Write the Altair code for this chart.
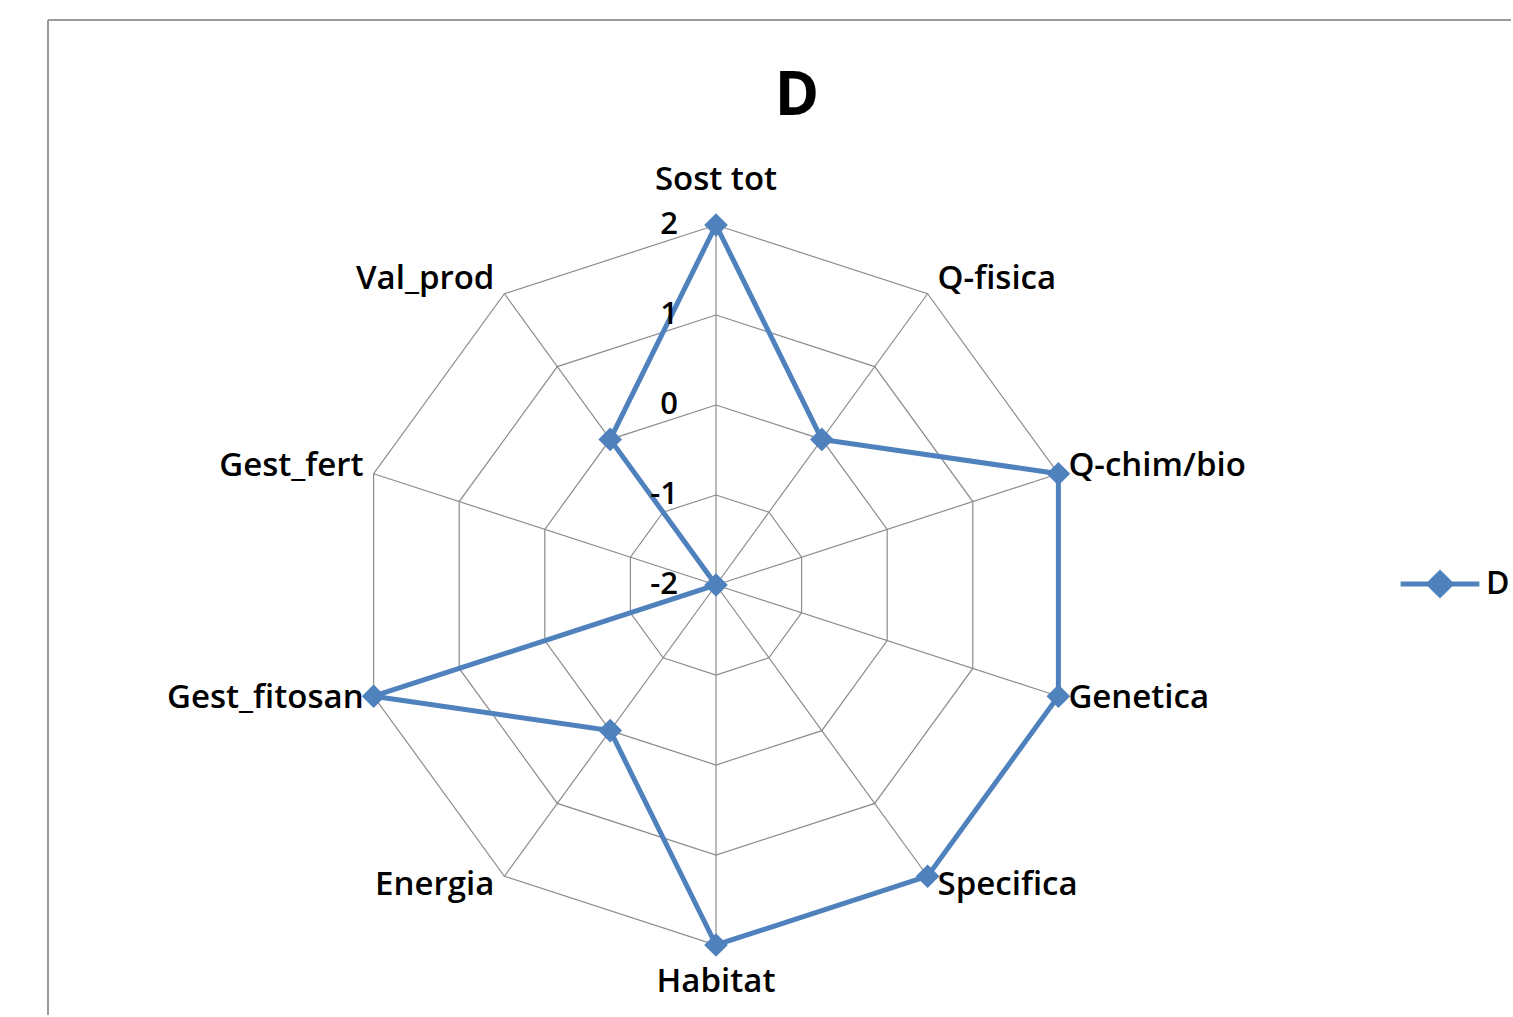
import altair as alt
import pandas as pd

# Radar chart "D": ten sustainability indicators scored from -2 to 2
categories = ["Sost tot", "Q-fisica", "Q-chim/bio", "Genetica", "Specifica",
              "Habitat", "Energia", "Gest_fitosan", "Gest_fert", "Val_prod"]
scores = [2, 0, 2, 2, 2, 2, 0, 2, -2, 0]
levels = [-2, -1, 0, 1, 2]
level_labels = ["-2", "-1", "0", "1", "2"]
series_name = "D"

BLUE = "#4F81BD"
GRID = "#8C8C8C"
FONT = "Open Sans"

N = len(categories)
VMIN, VMAX = min(levels), max(levels)

# canvas geometry
W, H = 1463, 995          # plot area
PAD_L, PAD_T = 48, 20
CX, CY = 668, 565         # radar centre inside the plot area
PX = 90                   # pixels per score unit

x_scale = alt.Scale(domain=[-CX / PX, (W - CX) / PX], nice=False, zero=False)
y_scale = alt.Scale(domain=[(CY - H) / PX, CY / PX], nice=False, zero=False)

# ---- tables built from the lists above ----
series_df = pd.DataFrame({
    "series": series_name,
    "cat": categories + [categories[0]],
    "i": list(range(N)) + [N],
    "v": scores + [scores[0]],
})
ring_rows = []
for lv in levels:
    for k in range(N + 1):
        ring_rows.append({"level": lv, "i": k, "v": lv})
rings_df = pd.DataFrame(ring_rows)
spokes_df = pd.DataFrame({"i": list(range(N)), "v": [VMAX] * N})
labels_df = pd.DataFrame({"cat": categories, "i": list(range(N)), "v": [VMAX] * N})
ticks_df = pd.DataFrame({"lab": level_labels, "i": [0] * len(levels), "v": levels})


def polar(chart):
    return chart.transform_calculate(
        theta=f"datum.i * 2 * PI / {N}",
    ).transform_calculate(
        r=f"datum.v - ({VMIN})",
    ).transform_calculate(
        px="datum.r * sin(datum.theta)",
        py="datum.r * cos(datum.theta)",
    )


X = alt.X("px:Q", scale=x_scale, axis=None)
Y = alt.Y("py:Q", scale=y_scale, axis=None)

rings = polar(alt.Chart(rings_df)).mark_line(
    color=GRID, strokeWidth=1.2
).encode(x=X, y=Y, detail="level:N", order="i:Q")

spokes = polar(alt.Chart(spokes_df)).mark_rule(
    color=GRID, strokeWidth=1.2
).encode(x=X, y=Y, x2=alt.value(CX), y2=alt.value(CY))

color = alt.Color(
    "series:N",
    scale=alt.Scale(domain=[series_name], range=[BLUE]),
    legend=alt.Legend(
        title=None, orient="none", legendX=1350, legendY=522,
        padding=0, symbolType="M-1,0L1,0M0,-0.28L0.28,0L0,0.28L-0.28,0Z",
        symbolSize=6200, symbolStrokeWidth=5, symbolStrokeColor=BLUE,
        symbolFillColor=BLUE, symbolOpacity=1,
        labelFont=FONT, labelFontSize=32, labelFontWeight=600,
        labelColor="black", labelOffset=4,
    ),
)

line = polar(alt.Chart(series_df)).mark_line(
    strokeWidth=5, strokeJoin="miter"
).encode(x=X, y=Y, order="i:Q", color=color)

points = polar(alt.Chart(series_df[series_df["i"] < N])).mark_point(
    shape="diamond", filled=True, size=560, opacity=1
).encode(x=X, y=Y, color=color)


def label_layer(sel, align, dx):
    base = polar(alt.Chart(labels_df)).transform_calculate(
        side="abs(sin(datum.theta)) > 0.01 ? 1 : 0",
    ).transform_calculate(
        ly=("datum.py + (datum.side == 1 ? (3 + 14 * cos(datum.theta)) "
            f": (4 + 41 * cos(datum.theta))) / {PX}"),
    ).transform_filter(sel)
    return base.mark_text(
        font=FONT, fontSize=33, fontWeight=600, color="black",
        align=align, baseline="middle", dx=dx
    ).encode(x=X, y=alt.Y("ly:Q", scale=y_scale, axis=None), text="cat:N")


lab_right = label_layer("sin(datum.theta) > 0.01", "left", 10)
lab_left = label_layer("sin(datum.theta) < -0.01", "right", -10)
lab_mid = label_layer("abs(sin(datum.theta)) <= 0.01", "center", 0)

ticks = polar(alt.Chart(ticks_df)).mark_text(
    font=FONT, fontSize=31, fontWeight=600, color="black",
    align="right", baseline="middle", dx=-38
).encode(x=X, y=Y, text="lab:N")

title = alt.Chart(pd.DataFrame({"t": [series_name]})).mark_text(
    font=FONT, fontSize=60, fontWeight="bold", color="black", baseline="middle"
).encode(x=alt.value(749), y=alt.value(77), text="t:N")

frame_top = alt.Chart(pd.DataFrame({"k": [0]})).mark_rule(
    color="#9A9A9A", strokeWidth=2
).encode(x=alt.value(0), x2=alt.value(W + 10), y=alt.value(0))
frame_left = alt.Chart(pd.DataFrame({"k": [0]})).mark_rule(
    color="#9A9A9A", strokeWidth=2
).encode(x=alt.value(0), y=alt.value(0), y2=alt.value(H + 10))

chart = alt.layer(
    frame_top, frame_left, rings, spokes, line, points,
    lab_right, lab_left, lab_mid, ticks, title,
).properties(
    width=W, height=H,
    autosize=alt.AutoSizeParams(type="none"),
    padding={"left": PAD_L, "top": PAD_T, "right": 0, "bottom": 0},
    background="white",
).configure_view(stroke=None)

chart.save("out.html", embed_options={"renderer": "svg", "actions": False})
